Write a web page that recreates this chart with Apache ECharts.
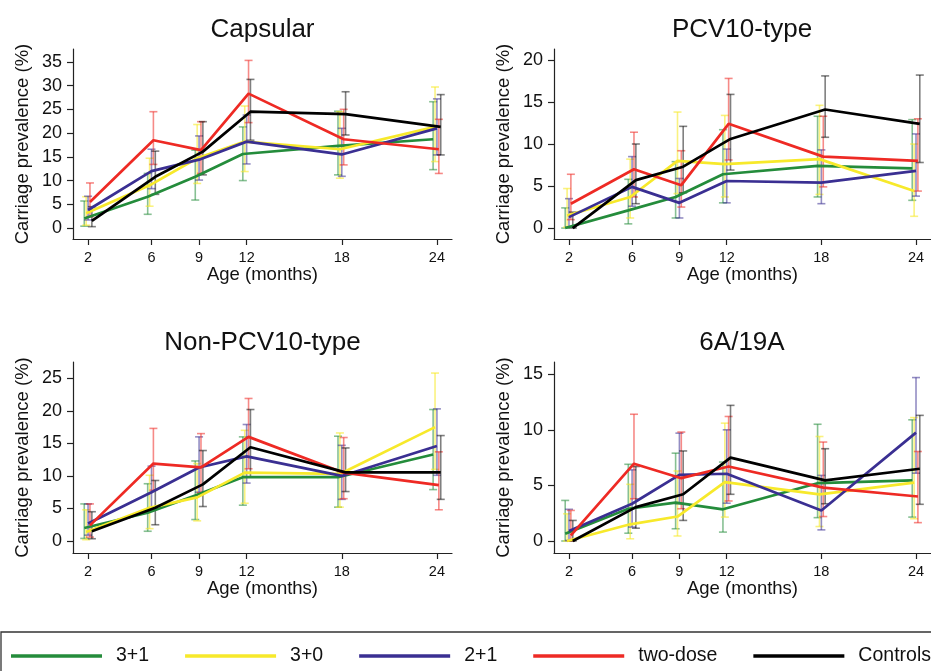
<!DOCTYPE html>
<html>
<head>
<meta charset="utf-8">
<script src="https://cdn.jsdelivr.net/npm/echarts@6/dist/echarts.min.js"></script>
<style>
  html, body { margin: 0; padding: 0; background: #fff; }
  #container { width: 931px; height: 671px; }
</style>
</head>
<body>
<div id="container"></div>
<script>
var ages = [2, 6, 9, 12, 18, 24]
var groups = ['3+1', '3+0', '2+1', 'two-dose', 'Controls']
var titles = ['Capsular', 'PCV10-type', 'Non-PCV10-type', '6A/19A']

// y tick labels per panel
var yTicks1 = [0, 5, 10, 15, 20, 25, 30, 35]
var yTicks2 = [0, 5, 10, 15, 20]
var yTicks3 = [0, 5, 10, 15, 20, 25]
var yTicks4 = [0, 5, 10, 15]

// Capsular (rows follow groups)
var capsularEst = [
  [2.0, 6.6, 10.8, 15.6, 17.3, 18.7],
  [3.1, 9.0, 14.7, 18.2, 16.6, 21.3],
  [3.8, 12.0, 14.4, 18.2, 15.5, 21.0],
  [5.5, 18.5, 16.4, 28.3, 18.7, 16.6],
  [1.5, 10.8, 16.1, 24.5, 24.0, 21.3]
]
var capsularLo = [
  [0.4, 2.9, 5.9, 10.0, 11.2, 12.3],
  [0.6, 4.6, 9.4, 11.9, 10.5, 14.0],
  [1.7, 8.3, 10.1, 13.5, 10.9, 15.4],
  [2.4, 13.4, 11.5, 22.2, 13.3, 11.5],
  [0.3, 7.1, 11.2, 18.5, 19.6, 15.4]
]
var capsularHi = [
  [5.7, 11.5, 16.4, 21.3, 24.6, 26.6],
  [6.6, 14.7, 21.8, 25.7, 24.5, 29.7],
  [6.7, 16.6, 19.4, 23.8, 21.0, 27.2],
  [9.5, 24.5, 22.4, 35.3, 25.0, 22.9],
  [4.5, 16.2, 22.4, 31.3, 28.7, 28.1]
]

// PCV10-type
var pcvEst = [
  [0.0, 2.1, 3.7, 6.4, 7.4, 7.1],
  [1.5, 3.7, 8.0, 7.6, 8.2, 4.4],
  [1.3, 4.9, 3.0, 5.6, 5.4, 6.8],
  [2.9, 7.0, 5.1, 12.4, 8.5, 8.0],
  [0.0, 5.7, 7.3, 10.6, 14.1, 12.4]
]
var pcvLo = [
  [0.0, 0.5, 1.2, 3.0, 3.7, 3.3],
  [0.1, 1.2, 4.1, 3.7, 4.0, 1.4],
  [0.1, 2.6, 1.2, 3.0, 2.9, 3.8],
  [1.0, 3.7, 2.5, 8.1, 4.9, 4.4],
  [0.0, 2.9, 4.2, 6.9, 10.8, 7.8]
]
var pcvHi = [
  [2.4, 5.8, 7.9, 11.7, 13.3, 12.9],
  [4.7, 8.2, 13.8, 13.4, 14.6, 10.0],
  [3.5, 8.5, 5.9, 9.4, 9.3, 11.2],
  [6.4, 11.4, 9.2, 17.8, 13.3, 13.0],
  [1.9, 10.0, 12.1, 15.9, 18.1, 18.2]
]

// Non-PCV10-type
var nonPcvEst = [
  [2.0, 4.35, 7.0, 9.8, 9.8, 13.3],
  [1.4, 5.1, 6.7, 10.5, 10.3, 17.5],
  [2.7, 7.5, 11.3, 13.0, 10.0, 14.6],
  [2.4, 11.9, 11.3, 16.0, 10.5, 8.6],
  [1.5, 5.1, 8.7, 14.4, 10.55, 10.55]
]
var nonPcvLo = [
  [0.4, 1.5, 3.3, 5.5, 5.2, 7.9],
  [0.2, 1.9, 3.1, 5.8, 5.2, 11.0],
  [0.9, 4.8, 7.5, 8.9, 6.4, 10.1],
  [0.6, 7.8, 7.4, 11.1, 6.5, 4.8],
  [0.35, 2.5, 5.3, 9.8, 7.6, 6.4]
]
var nonPcvHi = [
  [5.7, 8.8, 12.3, 16.0, 16.1, 20.2],
  [4.8, 10.1, 11.9, 17.0, 16.6, 25.8],
  [5.7, 11.5, 16.0, 17.9, 14.7, 20.3],
  [5.7, 17.3, 16.5, 21.9, 15.9, 13.7],
  [4.5, 9.3, 13.9, 20.2, 14.3, 16.2]
]

// 6A/19A
var sero6aEst = [
  [0.65, 2.9, 3.45, 2.85, 5.2, 5.45],
  [0.0, 1.5, 2.2, 5.3, 4.2, 5.25],
  [0.9, 3.35, 5.95, 6.05, 2.75, 9.75],
  [0.5, 6.95, 5.65, 6.7, 4.8, 4.0],
  [0.0, 3.05, 4.2, 7.5, 5.45, 6.5]
]
var sero6aLo = [
  [0.0, 0.7, 1.1, 0.8, 2.1, 2.15],
  [0.0, 0.2, 0.45, 2.15, 1.3, 2.0],
  [0.05, 1.25, 3.35, 3.4, 1.0, 6.1],
  [0.0, 3.8, 2.9, 3.6, 2.2, 1.65],
  [0.0, 1.15, 1.85, 4.2, 3.35, 3.3]
]
var sero6aHi = [
  [3.65, 6.9, 7.9, 7.1, 10.5, 10.9],
  [2.45, 5.1, 6.3, 10.6, 9.4, 11.1],
  [2.85, 6.4, 9.7, 10.0, 5.9, 14.7],
  [2.75, 11.4, 9.8, 11.2, 8.9, 8.05],
  [1.85, 6.7, 8.1, 12.2, 8.3, 11.3]
]

var panels = [
  { est: capsularEst, lo: capsularLo, hi: capsularHi, ticks: yTicks1 },
  { est: pcvEst, lo: pcvLo, hi: pcvHi, ticks: yTicks2 },
  { est: nonPcvEst, lo: nonPcvLo, hi: nonPcvHi, ticks: yTicks3 },
  { est: sero6aEst, lo: sero6aLo, hi: sero6aHi, ticks: yTicks4 }
]

// layout / style
var font = "'Liberation Sans', Arial, sans-serif"
var lineColors = ['#248c3b', '#f7e92b', '#3a2f92', '#ee2a24', '#000000']
var barColors = ['rgba(36,140,59,0.55)', 'rgba(247,233,43,0.6)', 'rgba(58,47,146,0.55)', 'rgba(238,42,36,0.55)', 'rgba(0,0,0,0.5)']
var dodge = [-0.24, -0.12, 0, 0.12, 0.24] // small horizontal shift per group
var grids = [
  { left: 73, top: 49, width: 379, height: 190 },
  { left: 554, top: 49, width: 378, height: 190 },
  { left: 73, top: 362, width: 379, height: 191 },
  { left: 554, top: 362, width: 378, height: 191 }
]
var yRanges = [[-2.3, 37.7], [-1.3, 21.3], [-1.84, 27.5], [-1.08, 16.1]]
var titlePos = [[262.5, 17], [742, 17], [262.5, 330], [742, 330]]
var axisCol = '#222'

var dom = document.getElementById('container')
var myChart = echarts.init(dom, null, { renderer: 'canvas' })

function renderErr(params, api) {
  var x = api.value(0)
  var lo = api.coord([x, api.value(1)])
  var hi = api.coord([x, api.value(2)])
  var w = 4
  var style = { stroke: api.visual('color'), lineWidth: 1.6 }
  return {
    type: 'group',
    children: [
      { type: 'line', shape: { x1: lo[0], y1: lo[1], x2: hi[0], y2: hi[1] }, style: style },
      { type: 'line', shape: { x1: lo[0] - w, y1: lo[1], x2: lo[0] + w, y2: lo[1] }, style: style },
      { type: 'line', shape: { x1: hi[0] - w, y1: hi[1], x2: hi[0] + w, y2: hi[1] }, style: style }
    ]
  }
}

var xAxes = [], yAxes = [], series = []
panels.forEach(function(p, pi) {
  xAxes.push({
    gridIndex: pi,
    type: 'value',
    min: 1.05,
    max: 24.95,
    name: 'Age (months)',
    nameLocation: 'middle',
    nameGap: 26,
    nameTextStyle: { fontSize: 18.5, color: '#111', fontFamily: font },
    axisLine: { onZero: false, lineStyle: { color: axisCol, width: 1.2 } },
    axisTick: { customValues: ages, length: 6, lineStyle: { color: axisCol, width: 1.2 } },
    axisLabel: { customValues: ages, fontSize: 14.5, color: '#111', margin: 11, fontFamily: font },
    splitLine: { show: false }
  })
  yAxes.push({
    gridIndex: pi,
    type: 'value',
    min: yRanges[pi][0],
    max: yRanges[pi][1],
    name: 'Carriage prevalence (%)',
    nameLocation: 'middle',
    nameGap: 41,
    nameTextStyle: { fontSize: 18.5, color: '#111', fontFamily: font },
    axisLine: { show: true, onZero: false, lineStyle: { color: axisCol, width: 1.2 } },
    axisTick: { show: true, customValues: p.ticks, length: 6, lineStyle: { color: axisCol, width: 1.2 } },
    axisLabel: { customValues: p.ticks, fontSize: 18, color: '#111', margin: 11, fontFamily: font },
    splitLine: { show: false }
  })
  groups.forEach(function(g, gi) {
    series.push({
      name: g + ' CI',
      type: 'custom',
      xAxisIndex: pi,
      yAxisIndex: pi,
      renderItem: renderErr,
      itemStyle: { color: barColors[gi] },
      encode: { x: 0, y: [1, 2] },
      z: 1,
      silent: true,
      data: ages.map(function(a, i) { return [a + dodge[gi], p.lo[gi][i], p.hi[gi][i]] })
    })
  })
  groups.forEach(function(g, gi) {
    series.push({
      name: g,
      type: 'line',
      xAxisIndex: pi,
      yAxisIndex: pi,
      showSymbol: false,
      symbol: 'none',
      z: 3,
      itemStyle: { color: lineColors[gi] },
      lineStyle: { color: lineColors[gi], width: 2.7 },
      data: ages.map(function(a, i) { return [a + dodge[gi], p.est[gi][i]] })
    })
  })
})

var option = {
  backgroundColor: '#fff',
  animation: false,
  textStyle: { fontFamily: font },
  title: titles.map(function(t, i) {
    return {
      text: t,
      left: titlePos[i][0],
      top: titlePos[i][1],
      textAlign: 'center',
      padding: 0,
      textStyle: { fontSize: 26, fontWeight: 'normal', color: '#111', fontFamily: font }
    }
  }),
  grid: grids,
  xAxis: xAxes,
  yAxis: yAxes,
  legend: {
    data: groups,
    left: 11,
    top: 646,
    padding: 0,
    icon: 'rect',
    itemWidth: 91,
    itemHeight: 3.5,
    itemGap: 36,
    textStyle: { fontSize: 19.5, color: '#111', fontFamily: font, padding: [0, 0, 0, 9] }
  },
  graphic: [{
    type: 'rect',
    shape: { x: 1, y: 632, width: 1000, height: 100 },
    style: { fill: 'none', stroke: '#333', lineWidth: 1.3 },
    silent: true,
    z: -1
  }],
  series: series
}

myChart.setOption(option)
</script>
</body>
</html>
